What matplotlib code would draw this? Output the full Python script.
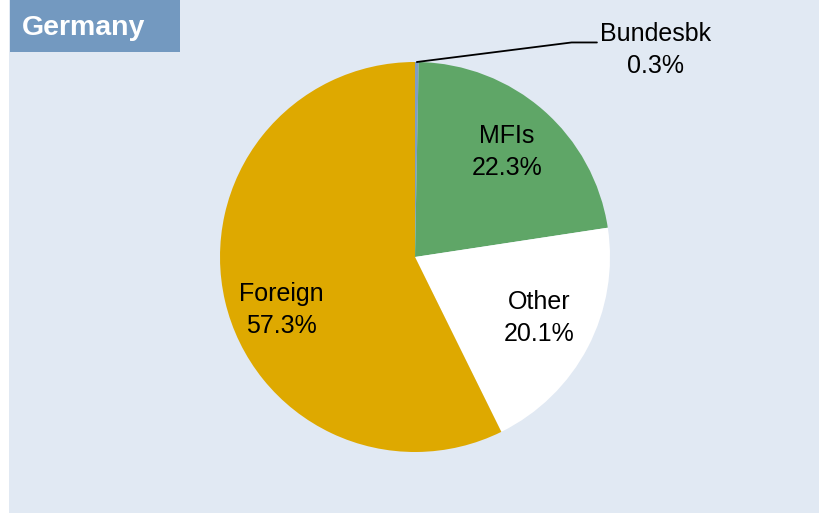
import numpy as np
import matplotlib.pyplot as plt
from matplotlib.patches import Rectangle

plt.rcParams['font.family'] = ['Liberation Sans', 'DejaVu Sans']

labels = ['Bundesbk', 'MFIs', 'Other', 'Foreign']
shares = [0.3, 22.3, 20.1, 57.3]
colors = ['#7F9DC4', '#5FA667', '#FFFFFF', '#DEA900']

W, H = 819, 513
fig = plt.figure(figsize=(W/100, H/100), dpi=100)
fig.patch.set_facecolor('white')

# light blue panel
fig.patches.append(Rectangle((9/W, 0), 1 - 9/W, 1, transform=fig.transFigure,
                             facecolor='#E1E9F3', edgecolor='none', zorder=-2))
# title box
fig.patches.append(Rectangle((10/W, 1 - 52/H), 170/W, 52/H, transform=fig.transFigure,
                             facecolor='#7399C0', edgecolor='none', zorder=-1))
fig.text(22/W, 1 - 28/H, 'Germany', color='white', fontsize=20.5, fontweight='bold',
         va='center', ha='left')

# pie axes: center (415,257), radius 195 px
cx, cy, r = 415, 257, 195
ax = fig.add_axes([(cx - r)/W, (H - cy - r)/H, 2*r/W, 2*r/H])
ax.set_zorder(2)
ax.set_facecolor('none')
wedges, _ = ax.pie(shares, colors=colors, startangle=90, counterclock=False,
                   wedgeprops=dict(linewidth=0))
ax.set_xlim(-1, 1)
ax.set_ylim(-1, 1)
ax.set_aspect('equal')
ax.axis('off')

fs = 18
# in-slice labels: (radius, angle offset)
place = {'MFIs': (0.715, 0), 'Other': (0.71, 1.5), 'Foreign': (0.735, 8.5)}
for w, lab, s in zip(wedges, labels, shares):
    if lab in place:
        rr, off = place[lab]
        ang = np.deg2rad((w.theta1 + w.theta2)/2 + off)
        ax.text(rr*np.cos(ang), rr*np.sin(ang), f'{lab}\n{s:.1f}%', ha='center',
                va='center', fontsize=fs, linespacing=1.42)

# Bundesbk leader label
w = wedges[0]
ang = np.deg2rad((w.theta1 + w.theta2)/2)
x0, y0 = np.cos(ang), np.sin(ang)
ax.annotate(f'{labels[0]}\n{shares[0]:.1f}%', xy=(x0, y0), xytext=(1.235, 1.06),
            ha='center', va='center', fontsize=fs, linespacing=1.42,
            arrowprops=dict(arrowstyle='-', color='black', lw=1.3,
                            connectionstyle='angle,angleA=0,angleB=7.2,rad=0',
                            shrinkA=0, shrinkB=0, relpos=(-0.03, 0.64)),
            annotation_clip=False)

fig.savefig('out.png', dpi=100)
